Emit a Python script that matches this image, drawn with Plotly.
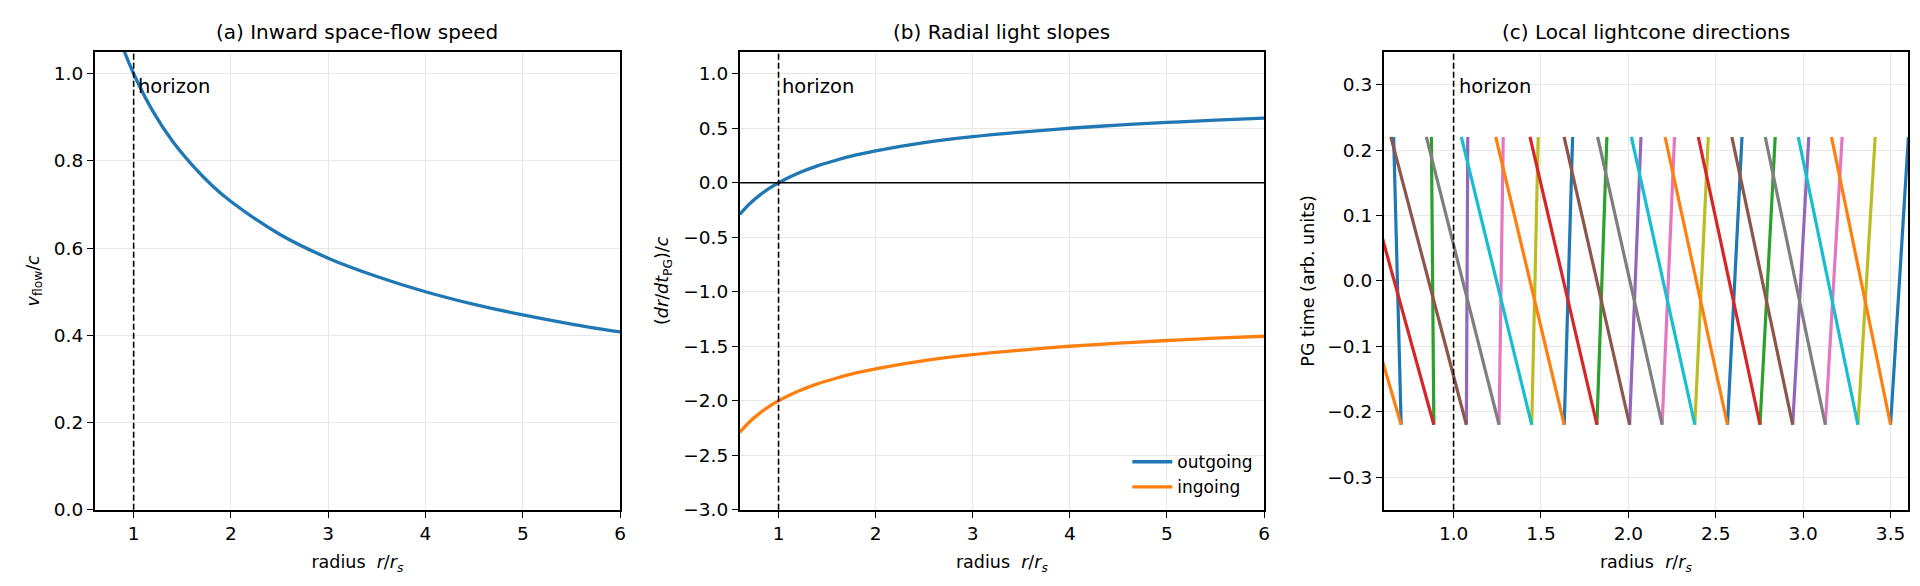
import plotly.graph_objs as go

# radius samples (r / r_s) for panels (a) and (b)
radius = [0.6, 0.7, 0.8, 0.9, 1.0, 1.2, 1.4, 1.6, 1.8, 2.0, 2.5, 3.0, 3.5, 4.0, 4.5, 5.0, 5.5, 6.0]
v_flow = [1.291, 1.195, 1.118, 1.054, 1.000, 0.913, 0.845, 0.791, 0.745, 0.707, 0.632,
          0.577, 0.535, 0.500, 0.471, 0.447, 0.426, 0.408]
slope_out = [-0.291, -0.195, -0.118, -0.054, 0.000, 0.087, 0.155, 0.209, 0.255, 0.293, 0.368,
             0.423, 0.465, 0.500, 0.529, 0.553, 0.574, 0.592]
slope_in = [-2.291, -2.195, -2.118, -2.054, -2.000, -1.913, -1.845, -1.791, -1.745, -1.707, -1.632,
            -1.577, -1.535, -1.500, -1.471, -1.447, -1.426, -1.408]

# lightcones: apex radius at bottom, radius of outgoing / ingoing ray at top
cone_apex = [0.700, 0.887, 1.073, 1.260, 1.447, 1.633, 1.820, 2.007,
             2.193, 2.380, 2.567, 2.753, 2.940, 3.127, 3.313, 3.500]
cone_out_top = [0.657, 0.873, 1.081, 1.284, 1.484, 1.681, 1.877, 2.072,
                2.264, 2.457, 2.650, 2.840, 3.032, 3.223, 3.412, 3.602]
cone_in_top = [0.217, 0.433, 0.641, 0.844, 1.044, 1.241, 1.437, 1.632,
               1.824, 2.017, 2.210, 2.400, 2.592, 2.783, 2.972, 3.162]
cone_t = [-0.22, 0.22]

titles = ['(a) Inward space-flow speed', '(b) Radial light slopes', '(c) Local lightcone directions']

tab10 = ['#1f77b4', '#ff7f0e', '#2ca02c', '#d62728', '#9467bd',
         '#8c564b', '#e377c2', '#7f7f7f', '#bcbd22', '#17becf']

FONT = 'DejaVu Sans'
TICK = 18.5
LAB = 17.5
W, H = 1920, 586
domains_x = [[87/W, 614/W], [734/W, 1260/W], [1380/W, 1906/W]]
dom_y = [(H-510.5)/H, (H-44.7)/H]

data = []
data.append(go.Scatter(x=radius, y=v_flow, mode='lines', line=dict(color=tab10[0], width=3.3, shape='spline'),
                       showlegend=False, xaxis='x', yaxis='y'))
data.append(go.Scatter(x=radius, y=slope_out, mode='lines', name='outgoing',
                       line=dict(color=tab10[0], width=3.3, shape='spline'), xaxis='x2', yaxis='y2'))
data.append(go.Scatter(x=radius, y=slope_in, mode='lines', name='ingoing',
                       line=dict(color=tab10[1], width=3.3, shape='spline'), xaxis='x2', yaxis='y2'))

for k in range(len(cone_apex)):
    data.append(go.Scatter(x=[cone_apex[k], cone_out_top[k]], y=cone_t, mode='lines',
                           line=dict(color=tab10[(2*k) % 10], width=3.2), showlegend=False,
                           xaxis='x3', yaxis='y3'))
    data.append(go.Scatter(x=[cone_apex[k], cone_in_top[k]], y=cone_t, mode='lines',
                           line=dict(color=tab10[(2*k+1) % 10], width=3.2), showlegend=False,
                           xaxis='x3', yaxis='y3'))


def ax(domain, rng, dtick, fmt, title, anchor, standoff):
    return dict(domain=domain, range=rng, dtick=dtick, tick0=0, tickformat=fmt,
                showline=True, mirror=True, linecolor='black', linewidth=1.6,
                ticks='outside', ticklen=6, tickwidth=1.4, tickcolor='black',
                showgrid=True, gridcolor='#e8e8e8', gridwidth=1.2, zeroline=False,
                tickfont=dict(family=FONT, size=TICK, color='black'),
                title=dict(text=title, font=dict(family=FONT, size=LAB, color='black'), standoff=standoff),
                anchor=anchor)


xlab = 'radius  <i>r</i>/<i>r<sub>s</sub></i>'
layout = go.Layout(
    width=W, height=H, margin=dict(l=0, r=0, t=0, b=0),
    plot_bgcolor='white', paper_bgcolor='white',
    font=dict(family=FONT, color='black'),
    xaxis=ax(domains_x[0], [0.6, 6], 1, 'd', xlab, 'y', 13),
    yaxis=ax(dom_y, [0, 1.05], 0.2, '.1f', '<i>v</i><sub>flow</sub>/<i>c</i>', 'x', 10),
    xaxis2=ax(domains_x[1], [0.6, 6], 1, 'd', xlab, 'y2', 13),
    yaxis2=ax(dom_y, [-3, 1.2], 0.5, '.1f', '(<i>dr</i>/<i>dt</i><sub>PG</sub>)/<i>c</i>', 'x2', 10),
    xaxis3=ax(domains_x[2], [0.6, 3.6], 0.5, '.1f', xlab, 'y3', 13),
    yaxis3=ax(dom_y, [-0.35, 0.35], 0.1, '.1f', 'PG time (arb. units)', 'x3', 8),
    legend=dict(x=domains_x[1][1] - 0.003, y=dom_y[0] + 0.008, xanchor='right', yanchor='bottom',
                bgcolor='rgba(0,0,0,0)', font=dict(family=FONT, size=17, color='black'),
                itemwidth=40, tracegroupgap=0),
    showlegend=True,
)

fig = go.Figure(data=data, layout=layout)

# horizon markers and panel titles
for i, (xr, yr) in enumerate([('x', 'y'), ('x2', 'y2'), ('x3', 'y3')]):
    fig.add_shape(type='line', xref=xr, yref=yr + ' domain', x0=1, x1=1, y0=0, y1=1,
                  line=dict(color='black', width=1.6, dash='6px,3px'))
    fig.add_annotation(x=1.02, xref=xr, y=0.955, yref=yr + ' domain', text='horizon', showarrow=False,
                       xanchor='left', yanchor='top', font=dict(family=FONT, size=19.5, color='black'))
    fig.add_annotation(x=(domains_x[i][0] + domains_x[i][1]) / 2, xref='paper', y=(H - 24) / H, yref='paper',
                       text=titles[i], showarrow=False, xanchor='center', yanchor='middle',
                       font=dict(family=FONT, size=20, color='black'))

fig.add_shape(type='line', xref='x2 domain', yref='y2', x0=0, x1=1, y0=0, y1=0,
              line=dict(color='black', width=1.6))

fig.write_html("out.html")
